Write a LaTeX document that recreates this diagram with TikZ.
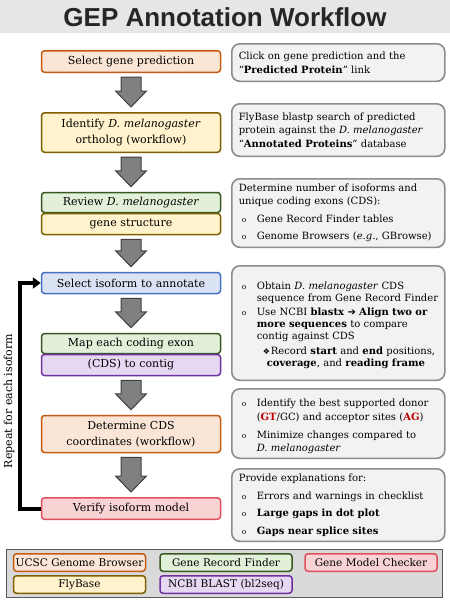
\documentclass[tikz,border=0pt]{standalone}
\usepackage{fontspec}
\setmainfont{DejaVu Serif}
\newfontfamily\titlefont{Liberation Sans}
\newfontfamily\symfont{DejaVu Sans}
\usetikzlibrary{calc,arrows.meta}

\definecolor{orangeline}{HTML}{C55A11}
\definecolor{orangefill}{HTML}{FBE5D6}
\definecolor{yellowline}{HTML}{7F6000}
\definecolor{yellowfill}{HTML}{FFF2CC}
\definecolor{greenline}{HTML}{385723}
\definecolor{greenfill}{HTML}{E2F0D9}
\definecolor{blueline}{HTML}{4472C4}
\definecolor{bluefill}{HTML}{DAE3F3}
\definecolor{purpleline}{HTML}{7030A0}
\definecolor{purplefill}{HTML}{E6D8F2}
\definecolor{redline}{HTML}{E0505C}
\definecolor{redfill}{HTML}{F8D3D4}
\definecolor{noteline}{HTML}{8C8C8C}
\definecolor{notefill}{HTML}{F2F2F2}
\definecolor{arrowline}{HTML}{404040}
\definecolor{arrowfill}{HTML}{808080}
\definecolor{legendline}{HTML}{595959}
\definecolor{legendfill}{HTML}{D9D9D9}
\definecolor{titlefill}{HTML}{E7E6E6}
\definecolor{titletext}{HTML}{262626}
\definecolor{sitered}{HTML}{C00000}

\newcommand{\bitem}[2][4pt]{\par\vspace{#1}\noindent
  \makebox[18pt][l]{\hspace{3pt}{\fontsize{7.5}{7.5}\selectfont o}}%
  \parbox[t]{\dimexpr\hsize-15pt\relax}{\raggedright #2}}

\begin{document}
\begin{tikzpicture}
      [x = 1pt, y = -1pt,
      box/.style = {
         line width = 1.5pt,
         rounded corners = 3pt,
         minimum width = 179pt,
         text width = 172pt,
         align = center,
         inner sep = 0pt,
         font = \fontsize{11}{16}\selectfont
      },
      orangebox/.style = {box, draw = orangeline, fill = orangefill},
      yellowbox/.style = {box, draw = yellowline, fill = yellowfill},
      greenbox/.style = {box, draw = greenline, fill = greenfill},
      bluebox/.style = {box, draw = blueline, fill = bluefill},
      purplebox/.style = {box, draw = purpleline, fill = purplefill},
      redbox/.style = {box, draw = redline, fill = redfill},
      note/.style = {
         draw = noteline,
         fill = notefill,
         line width = 1.6pt,
         rounded corners = 8pt,
         anchor = north west,
         minimum width = 213pt,
         text width = 199pt,
         inner xsep = 7pt,
         inner ysep = 3pt,
         align = left,
         font = \fontsize{10}{13.5}\selectfont
      },
      legenditem/.style = {box, minimum width = 132pt, minimum height = 17.5pt,
         text width = 128pt, font = \fontsize{10.5}{12}\selectfont},
      bigarrow/.style = {draw = arrowline, fill = arrowfill, line width = 1pt},
      loopline/.style = {line width = 4pt, -{Triangle[length = 8pt, width = 11pt]}}]

      \useasboundingbox (0, 0) rectangle (450, 600);
      \fill[white] (0, 0) rectangle (450, 600);
      \fill[titlefill] (0, 0) rectangle (450, 33);
      \node[font = \titlefont\bfseries\fontsize{26}{28}\selectfont, text = titletext]
         (title) at (225, 17) {GEP Annotation Workflow};

      \node[orangebox, minimum height = 21.5pt] (sel) at (131, 61.5) {Select gene prediction};
      \node[yellowbox, minimum height = 39.5pt] (ident) at (131, 132.5)
         {Identify \emph{D. melanogaster}\\ ortholog (workflow)};
      \node[greenbox, minimum height = 20pt] (review) at (131, 202.5) {Review \emph{D. melanogaster}};
      \node[yellowbox, minimum height = 21pt] (struct) at (131, 224) {gene structure};
      \node[bluebox, minimum height = 21pt] (isoform) at (131, 283) {Select isoform to annotate};
      \node[greenbox, minimum height = 20pt] (mapexon) at (131, 343.5) {Map each coding exon};
      \node[purplebox, minimum height = 21pt] (contig) at (131, 365) {(CDS) to contig};
      \node[orangebox, minimum height = 37pt] (coords) at (131, 434)
         {Determine CDS\\ coordinates (workflow)};
      \node[redbox, minimum height = 21.5pt] (verify) at (131, 508.5) {Verify isoform model};

      \foreach \from/\to in {sel/ident, ident/review, struct/isoform,
         isoform/mapexon, contig/coords, coords/verify}
         \draw[bigarrow] let \p1 = ($(\from.south) + (0, 4)$), \p2 = ($(\to.north) + (0, -5)$) in
            (\x1 - 10pt, \y1) -- (\x1 + 10pt, \y1) -- (\x1 + 10pt, \y2 + 16pt)
            -- (\x1 + 15.5pt, \y2 + 16pt) -- (\x2, \y2) -- (\x1 - 15.5pt, \y2 + 16pt)
            -- (\x1 - 10pt, \y2 + 16pt) -- cycle;

      \draw[loopline] (verify.west) -- ++(-21, 0) |- (isoform.west);
      \node[rotate = 90, font = \fontsize{11}{13}\selectfont] (repeat) at (9, 401)
         {Repeat for each isoform};

      \node[note, minimum height = 37.5pt] (click) at (231, 43)
         {Click on gene prediction and the\\ “\textbf{Predicted Protein}” link};
      \node[note, minimum height = 52.5pt] (blastp) at (231, 103)
         {FlyBase blastp search of predicted\\ protein against the \emph{D. melanogaster}\\
          “\textbf{Annotated Proteins}” database};
      \node[note, minimum height = 68.5pt] (genes) at (231, 178)
         {Determine number of isoforms and\\ unique coding exons (CDS):
          \bitem{Gene Record Finder tables}
          \bitem{Genome Browsers (\emph{e.g.}, GBrowse)}};
      \node[note, minimum height = 114.5pt, font = \fontsize{10}{12}\selectfont] (cds) at (231, 265)
         {\bitem[0pt]{Obtain \emph{D. melanogaster} CDS\\ sequence from Gene Record Finder}
          \bitem{Use NCBI \textbf{blastx} {\symfont ➔} \textbf{Align two or}\\
             \textbf{more sequences} to compare\\ contig against CDS}
          \par\vspace{4pt}\noindent\hspace{24pt}\makebox[8pt][l]{\symfont\fontsize{8}{8}\selectfont ❖}%
          \parbox[t]{\dimexpr\hsize-30pt\relax}{\raggedright Record
             \textbf{start} and \textbf{end} positions,\\ \hspace*{-4pt}\textbf{coverage}, and \textbf{reading frame}}
          \par\vspace{18pt}};
      \node[note, minimum height = 69.5pt] (sites) at (231, 388)
         {\bitem[0pt]{Identify the best supported donor\\
             (\textcolor{sitered}{\textbf{GT}}/GC) and acceptor sites (\textcolor{sitered}{\textbf{AG}})}
          \bitem[7pt]{Minimize changes compared to\\ \emph{D. melanogaster}}};
      \node[note, minimum height = 72.5pt] (explain) at (231, 468)
         {Provide explanations for:
          \bitem{Errors and warnings in checklist}
          \bitem{\textbf{Large gaps in dot plot}}
          \bitem{\textbf{Gaps near splice sites}}};

      \node[draw = legendline, fill = legendfill, line width = 1.3pt, anchor = north west,
         minimum width = 436pt, minimum height = 48pt] (legend) at (6, 549) {};
      \node[legenditem, draw = orangeline, fill = orangefill] (ucsc) at (79.5, 562.5) {UCSC Genome Browser};
      \node[legenditem, draw = greenline, fill = greenfill] (finder) at (226, 562.5) {Gene Record Finder};
      \node[legenditem, draw = redline, fill = redfill] (checker) at (371, 562.5) {Gene Model Checker};
      \node[legenditem, draw = yellowline, fill = yellowfill] (flybase) at (79.5, 584.5) {FlyBase};
      \node[legenditem, draw = purpleline, fill = purplefill] (blast) at (226, 584.5) {NCBI BLAST (bl2seq)};

   \end{tikzpicture}
\end{document}
